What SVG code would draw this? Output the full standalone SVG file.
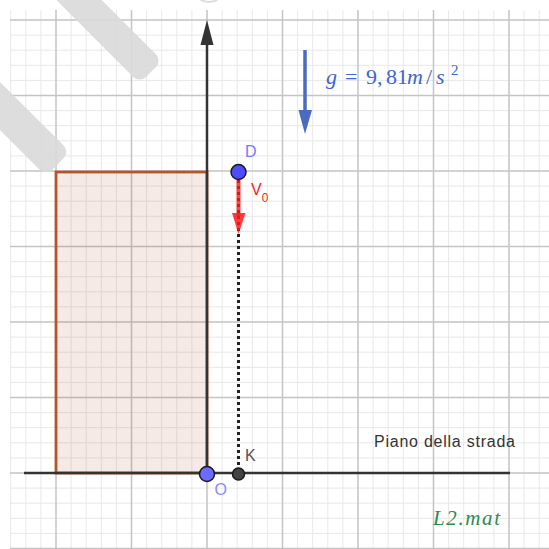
<svg xmlns="http://www.w3.org/2000/svg" width="549" height="549" viewBox="0 0 549 549">
<style>
.minor{stroke:#e8e8e8;stroke-width:1;fill:none}
.major{stroke:#c4c4c4;stroke-width:1.5;fill:none}
.bar{fill:#d9d9d9;opacity:0.9}
.axis{stroke:#333;stroke-width:2.5;fill:none}
.lbl{font-family:"Liberation Sans",Arial,sans-serif;font-size:16px}
.math{font-family:"Liberation Serif","Times New Roman",serif}
</style>
<rect width="549" height="549" fill="#fff"/>
<g id="grid">
<path class="minor" d="M10.7 10V549M25.8 10V549M40.9 10V549M71.1 10V549M86.2 10V549M101.3 10V549M116.4 10V549M146.6 10V549M161.7 10V549M176.8 10V549M191.9 10V549M222.1 10V549M237.2 10V549M252.3 10V549M267.4 10V549M297.6 10V549M312.7 10V549M327.8 10V549M342.9 10V549M373.1 10V549M388.2 10V549M403.3 10V549M418.4 10V549M448.6 10V549M463.7 10V549M478.8 10V549M493.9 10V549M524.1 10V549M539.2 10V549
M10 35.1H549M10 50.2H549M10 65.3H549M10 80.4H549M10 110.6H549M10 125.7H549M10 140.8H549M10 155.9H549M10 186.1H549M10 201.2H549M10 216.3H549M10 231.4H549M10 261.6H549M10 276.7H549M10 291.8H549M10 306.9H549M10 337.1H549M10 352.2H549M10 367.3H549M10 382.4H549M10 412.6H549M10 427.7H549M10 442.8H549M10 457.9H549M10 488.1H549M10 503.2H549M10 518.3H549M10 533.4H549"/>
<path class="major" d="M56 10V549M131.5 10V549M207 10V549M282.5 10V549M358 10V549M433.5 10V549M509 10V549
M10 20H549M10 95.5H549M10 171H549M10 246.5H549M10 322H549M10 397.5H549M10 473H549M10 548.5H549"/>
</g>
<g id="watermark">
<rect class="bar" x="-220" y="-16" width="220" height="32" rx="9" transform="translate(151,72) rotate(45)"/>
<rect class="bar" x="-220" y="-17" width="220" height="34" rx="9" transform="translate(58,164) rotate(45)"/>
<ellipse cx="209" cy="-7" rx="12" ry="9" fill="none" stroke="#dcdcdc" stroke-width="2"/>
</g>
<g id="building">
<rect x="56" y="172" width="151" height="301" fill="#993300" fill-opacity="0.1" stroke="#b3562a" stroke-width="2.8"/>
</g>
<g id="connectors">
<line class="axis" x1="24" y1="473" x2="510" y2="473" stroke-width="3"/>
<line class="axis" x1="207" y1="473" x2="207" y2="44"/>
<polygon points="207,20 200.5,45 213.5,45" fill="#333"/>
<line x1="238.5" y1="180" x2="238.5" y2="467" stroke="#222" stroke-width="3" stroke-dasharray="3 3"/>
<line x1="238.5" y1="172" x2="238.5" y2="216" stroke="#ff1a1a" stroke-opacity="0.8" stroke-width="4"/>
<polygon points="238.5,234 232,213 245.5,213" fill="#ff1a1a" fill-opacity="0.85"/>
<line x1="305" y1="50" x2="305" y2="112" stroke="#4a6cc0" stroke-width="3.5"/>
<polygon points="305,134 298.5,110 312,110" fill="#4a6cc0"/>
</g>
<g id="D">
<circle cx="238.5" cy="172" r="7.5" fill="#4d4dff" stroke="#1a1a1a" stroke-width="1.5"/>
<text class="lbl" x="245" y="157" fill="#7a7aff">D</text>
</g>
<g id="V0">
<text class="lbl" x="251" y="195" fill="#ff2020">V<tspan font-size="12" dy="7">0</tspan></text>
</g>
<g id="O">
<circle cx="207" cy="474" r="7.5" fill="#6b6bff" stroke="#1a1a1a" stroke-width="1.5"/>
<text class="lbl" x="214.5" y="495" fill="#8a8aff">O</text>
</g>
<g id="K">
<circle cx="238.5" cy="474" r="6" fill="#444" stroke="#1a1a1a" stroke-width="1.5"/>
<text class="lbl" x="245" y="461" fill="#555">K</text>
</g>
<g id="formula">
<text class="math" font-size="22" fill="#3d66cc" y="84"><tspan x="326" font-style="italic">g</tspan><tspan x="345">=</tspan><tspan x="366">9,</tspan><tspan x="386">81</tspan><tspan x="407" font-style="italic">m</tspan><tspan x="426">/</tspan><tspan x="436" font-style="italic">s</tspan><tspan x="451" y="75" font-size="15">2</tspan></text>
</g>
<g id="road">
<text class="lbl" x="374" y="447" font-size="17.5px" fill="#333" textLength="141">Piano della strada</text>
</g>
<g id="credit">
<text class="math" x="433" y="525" font-size="21" font-style="italic" fill="#2d8a50" textLength="67">L2.mat</text>
</g>
</svg>
